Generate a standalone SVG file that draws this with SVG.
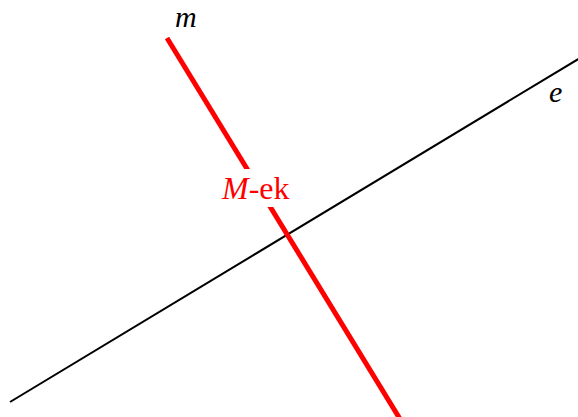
<svg xmlns="http://www.w3.org/2000/svg" width="578" height="417" viewBox="0 0 578 417">
<style>
.lbl{font-family:"Liberation Serif","Times New Roman",serif;font-size:30px;}
.big{font-size:32px;}
.it{font-style:italic;}
</style>
<rect width="578" height="417" fill="#fff"/>
<g id="connectors">
<line id="line-e" x1="10" y1="402" x2="580" y2="58" stroke="#000" stroke-width="2"/>
<line id="line-m" x1="167" y1="38" x2="400" y2="419" stroke="#ff0000" stroke-width="5"/>
</g>
<g id="label-m">
<text class="lbl it" x="175" y="27" fill="#000">m</text>
</g>
<g id="label-e">
<text class="lbl it" x="549" y="102" fill="#000">e</text>
</g>
<g id="label-mek">
<rect x="220" y="169" width="76" height="38" fill="#fff"/>
<text class="lbl big" x="222" y="199" fill="#ff0000"><tspan class="it">M</tspan>-ek</text>
</g>
</svg>
